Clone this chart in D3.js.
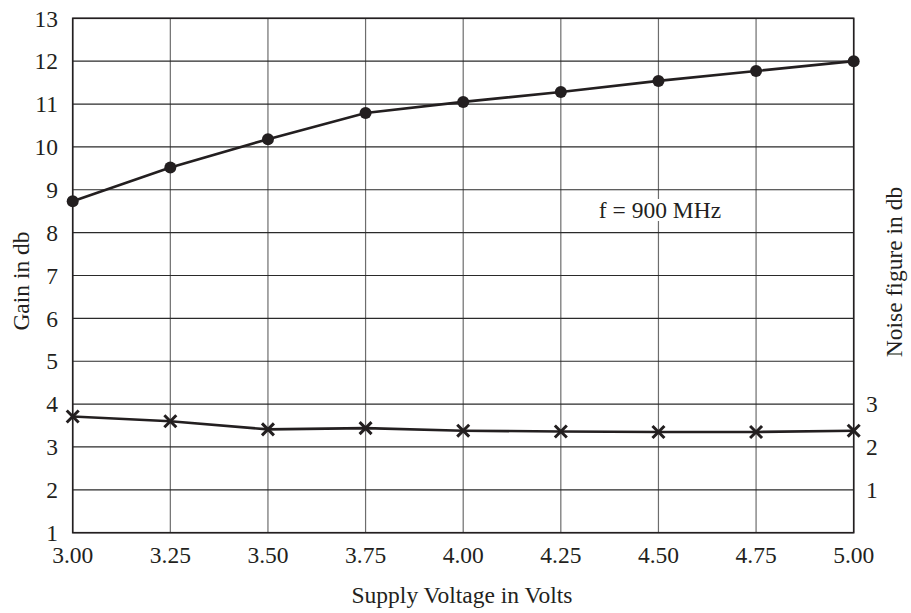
<!DOCTYPE html>
<html><head><meta charset="utf-8">
<script src="https://cdn.jsdelivr.net/npm/d3@7"></script>
<style>body{margin:0;background:#fff}svg{display:block}text{font-family:"Liberation Serif","Times New Roman",serif;fill:#231f20}</style>
</head><body>
<svg id="c" width="911" height="613"></svg>
<script>
const voltages = [3.00, 3.25, 3.50, 3.75, 4.00, 4.25, 4.50, 4.75, 5.00];
const gainDb = [8.73, 9.52, 10.18, 10.79, 11.05, 11.28, 11.54, 11.77, 12.0];
const noiseFigureDb = [2.71, 2.60, 2.41, 2.44, 2.38, 2.36, 2.35, 2.35, 2.38];
const xTickLabels = ["3.00","3.25","3.50","3.75","4.00","4.25","4.50","4.75","5.00"];
const gainTicks = [1,2,3,4,5,6,7,8,9,10,11,12,13];
const noiseTicks = [1,2,3];
const annotation = "f = 900 MHz";

const svg = d3.select("#c");
const L = 72.7, R = 853.7, T = 18.3, B = 532.7;
const x = d3.scaleLinear().domain([3, 5]).range([L, R]);
const y = d3.scaleLinear().domain([1, 13]).range([B, T]);
const y2 = d3.scaleLinear().domain([0, 12]).range([B, T]);

// grid
svg.append("g").selectAll("line").data(voltages).join("line")
  .attr("x1", d => x(d)).attr("x2", d => x(d)).attr("y1", T).attr("y2", B)
  .attr("stroke", "#6d6d6d").attr("stroke-width", 1.2);
svg.append("g").selectAll("line").data(gainTicks).join("line")
  .attr("x1", L).attr("x2", R).attr("y1", d => y(d)).attr("y2", d => y(d))
  .attr("stroke", "#2a2a2a").attr("stroke-width", 1.2);

// border
svg.append("rect").attr("x", L).attr("y", T).attr("width", R - L).attr("height", B - T)
  .attr("fill", "none").attr("stroke", "#231f20").attr("stroke-width", 1.6);

// tick labels
const fs = 23.5;
svg.append("g").selectAll("text").data(gainTicks).join("text")
  .attr("x", 58).attr("y", d => y(d)).attr("dy", "0.35em").attr("text-anchor", "end")
  .attr("font-size", fs).text(d => d);
svg.append("g").selectAll("text").data(noiseTicks).join("text")
  .attr("x", 866).attr("y", d => y2(d)).attr("dy", "0.35em").attr("text-anchor", "start")
  .attr("font-size", fs).text(d => d);
svg.append("g").selectAll("text").data(voltages).join("text")
  .attr("x", d => x(d)).attr("y", 563).attr("text-anchor", "middle")
  .attr("font-size", fs).text((d, i) => xTickLabels[i]);

// axis titles
svg.append("text").attr("x", 462).attr("y", 603).attr("text-anchor", "middle")
  .attr("font-size", fs).text("Supply Voltage in Volts");
svg.append("text").attr("transform", "translate(29,281) rotate(-90)").attr("text-anchor", "middle")
  .attr("font-size", fs).text("Gain in db");
svg.append("text").attr("transform", "translate(902,272) rotate(-90)").attr("text-anchor", "middle")
  .attr("font-size", fs).text("Noise figure in db");

// annotation with white background
const ann = svg.append("g");
const at = ann.append("text").attr("x", 660).attr("y", 218).attr("text-anchor", "middle")
  .attr("font-size", fs).text(annotation);
const bb = at.node().getBBox();
ann.insert("rect", "text").attr("x", bb.x - 3).attr("y", bb.y + 2).attr("width", bb.width + 6).attr("height", bb.height - 4).attr("fill", "#fff");

// lines
const gainLine = d3.line().x((d, i) => x(voltages[i])).y(d => y(d));
svg.append("path").datum(gainDb).attr("d", gainLine).attr("fill", "none")
  .attr("stroke", "#231f20").attr("stroke-width", 2.6);
svg.append("g").selectAll("circle").data(gainDb).join("circle")
  .attr("cx", (d, i) => x(voltages[i])).attr("cy", d => y(d)).attr("r", 6).attr("fill", "#231f20");

const nfLine = d3.line().x((d, i) => x(voltages[i])).y(d => y2(d));
svg.append("path").datum(noiseFigureDb).attr("d", nfLine).attr("fill", "none")
  .attr("stroke", "#231f20").attr("stroke-width", 2.6);
const sym = d3.symbol().type(d3.symbolX).size(95);
svg.append("g").selectAll("path").data(noiseFigureDb).join("path")
  .attr("transform", (d, i) => `translate(${x(voltages[i])},${y2(d)})`)
  .attr("d", sym).attr("fill", "none").attr("stroke", "#231f20").attr("stroke-width", 3);
</script>
</body></html>
